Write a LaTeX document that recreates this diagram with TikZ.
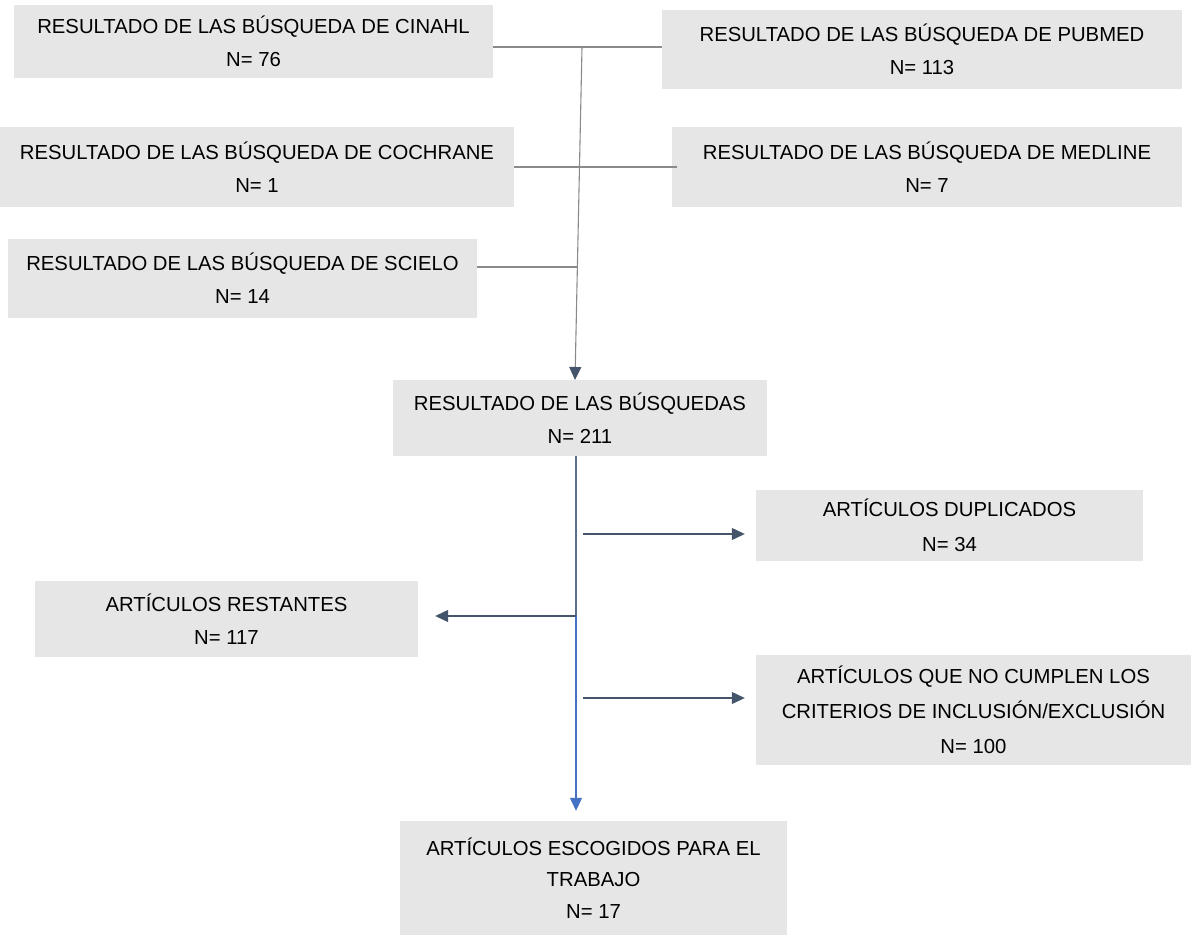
\documentclass[tikz,border=0pt]{standalone}
\usepackage{fontspec}
\setmainfont{Liberation Sans}
\usetikzlibrary{arrows.meta}
\definecolor{boxgray}{HTML}{E6E6E6}
\definecolor{linegray}{HTML}{8A8A8A}
\definecolor{slate}{HTML}{44546A}
\definecolor{midslate}{HTML}{5A6F8F}
\definecolor{arrowblue}{HTML}{4472C4}
\begin{document}
\begin{tikzpicture}[x=1pt,y=-1pt,
  box/.style={fill=boxgray, inner sep=0pt, align=center,
    font=\fontsize{20.3}{33}\selectfont},
  wide/.style={font=\fontsize{20.3}{35}\selectfont},
  tight/.style={font=\fontsize{20.3}{31.5}\selectfont},
  conn/.style={draw=linegray, line width=1.1pt},
  tipdark/.style={-{Triangle[length=13pt,width=12pt,color=slate]}},
  arr/.style={draw=slate, line width=1.2pt, tipdark},
]
\useasboundingbox (0,0) rectangle (1191,939);

\node[box, minimum width=479pt, minimum height=73pt] (cin) at (253.5,41.5)
  {RESULTADO DE LAS BÚSQUEDA DE CINAHL\\N= 76};
\node[box, minimum width=520pt, minimum height=79pt] (pub) at (922,49.5)
  {RESULTADO DE LAS BÚSQUEDA DE PUBMED\\N= 113};
\node[box, minimum width=514pt, minimum height=80pt] (coc) at (257,167)
  {RESULTADO DE LAS BÚSQUEDA DE COCHRANE\\N= 1};
\node[box, minimum width=510pt, minimum height=80pt] (med) at (927,167)
  {RESULTADO DE LAS BÚSQUEDA DE MEDLINE\\N= 7};
\node[box, minimum width=469pt, minimum height=79pt] (sci) at (242.5,278.5)
  {RESULTADO DE LAS BÚSQUEDA DE SCIELO\\N= 14};
\node[box, minimum width=374pt, minimum height=76pt] (sum) at (580,418)
  {RESULTADO DE LAS BÚSQUEDAS\\N= 211};
\node[box, wide, minimum width=387pt, minimum height=71pt] (dup) at (949.5,525.5)
  {ARTÍCULOS DUPLICADOS\\N= 34};
\node[box, minimum width=383pt, minimum height=76pt] (rest) at (226.5,619)
  {ARTÍCULOS RESTANTES\\N= 117};
\node[box, wide, minimum width=435pt, minimum height=110pt] (crit) at (973.5,710)
  {ARTÍCULOS QUE NO CUMPLEN LOS\\CRITERIOS DE INCLUSIÓN/EXCLUSIÓN\\N= 100};
\node[box, tight, minimum width=387pt, minimum height=114pt] (fin) at (593.5,878)
  {ARTÍCULOS ESCOGIDOS PARA EL\\TRABAJO\\N= 17};

% junctions on the top collector line
\coordinate (j1) at (582,47);
\coordinate (j3) at (577.4,267);
\coordinate (j4) at (575,380);
% junctions on the lower trunk
\coordinate (b1) at (576,456);
\coordinate (b2) at (576,616);
\coordinate (a1) at (583,534);
\coordinate (a2) at (583,698);

% top collectors
\draw[conn] (cin.east |- j1) -- (pub.west |- j1);
\draw[conn] (coc.east) -- ([xshift=5pt]med.west);
\draw[conn] (sci.east |- j3) -- (j3);
\draw[conn, tipdark] (j1) -- (j4);

% lower trunk
\draw[draw=midslate, line width=1.1pt] (b1) -- (b2);
\draw[draw=arrowblue, line width=1.2pt,
  -{Triangle[length=13pt,width=12pt,color=arrowblue]}, shorten >=10pt]
  (b2) -- (fin.north -| b2);
\draw[arr, shorten >=11pt] (a1) -- (dup.west |- a1);
\draw[arr, shorten >=17pt] (b2) -- (rest.east |- b2);
\draw[arr, shorten >=11pt] (a2) -- (crit.west |- a2);
\end{tikzpicture}
\end{document}
